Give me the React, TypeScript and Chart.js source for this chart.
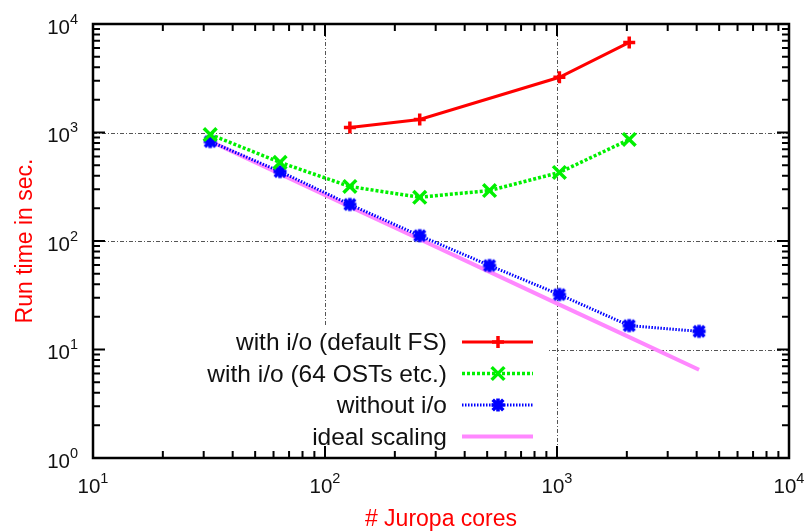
import React, { useEffect, useRef } from "react";
import { Chart, registerables } from "chart.js";

Chart.register(...registerables);

// ---- data ----
const coresDefaultFS = [128, 256, 1024, 2048];
const timeDefaultFS = [1110, 1320, 3230, 6760];
const cores64OST = [32, 64, 128, 256, 512, 1024, 2048];
const time64OST = [958, 530, 318, 253, 292, 428, 862];
const coresNoIO = [32, 64, 128, 256, 512, 1024, 2048, 4096];
const timeNoIO = [826, 437, 217, 112, 59.4, 32.1, 16.6, 14.7];
const coresIdeal = [32, 64, 128, 256, 512, 1024, 2048, 4096];
const timeIdeal = [830, 415, 207.5, 103.8, 51.9, 25.9, 13.0, 6.5];
const seriesLabels = [
  "with i/o (default FS)",
  "with i/o (64 OSTs etc.)",
  "without i/o",
  "ideal scaling",
];
const xTickExponents = [1, 2, 3, 4];
const yTickExponents = [0, 1, 2, 3, 4];
const xTitle = "# Juropa cores";
const yTitle = "Run time in sec.";

const FONT = '"Liberation Sans", Arial, Helvetica, sans-serif';

function pts(xs: number[], ys: number[]) {
  return xs.map((x, i) => ({ x, y: ys[i] }));
}

// gnuplot-style "*" point (plus overlaid with a square-cornered x)
function makeStar(color: string): HTMLCanvasElement {
  const c = document.createElement("canvas");
  c.width = 18;
  c.height = 18;
  const g = c.getContext("2d")!;
  g.strokeStyle = color;
  g.lineWidth = 3.6;
  const m = 9;
  const r = 6.5;
  const d = 5.3;
  g.beginPath();
  g.moveTo(m - r, m);
  g.lineTo(m + r, m);
  g.moveTo(m, m - r);
  g.lineTo(m, m + r);
  g.moveTo(m - d, m - d);
  g.lineTo(m + d, m + d);
  g.moveTo(m - d, m + d);
  g.lineTo(m + d, m - d);
  g.stroke();
  return c;
}

function drawMarker(ctx: CanvasRenderingContext2D, style: any, r: number, x: number, y: number) {
  if (style && typeof style === "object") {
    ctx.drawImage(style, x - style.width / 2, y - style.height / 2);
    return;
  }
  ctx.beginPath();
  if (style === "cross") {
    ctx.moveTo(x - r, y);
    ctx.lineTo(x + r, y);
    ctx.moveTo(x, y - r);
    ctx.lineTo(x, y + r);
  }
  if (style === "crossRot") {
    const d = r * Math.SQRT1_2;
    ctx.moveTo(x - d, y - d);
    ctx.lineTo(x + d, y + d);
    ctx.moveTo(x - d, y + d);
    ctx.lineTo(x + d, y - d);
  }
  ctx.stroke();
}

const gnuFrame = {
  id: "gnuFrame",
  beforeDatasetsDraw(chart: any) {
    const { ctx, chartArea: a, scales } = chart;
    const xs = scales.x;
    const ys = scales.y;
    ctx.save();
    // grid
    ctx.strokeStyle = "#555";
    ctx.lineWidth = 1;
    ctx.setLineDash([4, 2, 1, 2]);
    for (const e of xTickExponents) {
      const v = Math.pow(10, e);
      if (v <= xs.min || v >= xs.max) continue;
      const px = Math.round(xs.getPixelForValue(v)) + 0.5;
      ctx.beginPath();
      ctx.moveTo(px, a.top);
      ctx.lineTo(px, a.bottom);
      ctx.stroke();
    }
    for (const e of yTickExponents) {
      const v = Math.pow(10, e);
      if (v <= ys.min || v >= ys.max) continue;
      const py = Math.round(ys.getPixelForValue(v)) + 0.5;
      ctx.beginPath();
      ctx.moveTo(a.left, py);
      ctx.lineTo(a.right, py);
      ctx.stroke();
    }
    ctx.setLineDash([]);
    // opaque legend box
    ctx.fillStyle = "#fff";
    ctx.fillRect(a.left, 327, 548 - a.left, a.bottom - 327);
    ctx.restore();
  },
  afterDatasetsDraw(chart: any) {
    const { ctx, chartArea: a, scales } = chart;
    const xs = scales.x;
    const ys = scales.y;
    ctx.save();
    // ticks
    ctx.strokeStyle = "#000";
    ctx.lineWidth = 2;
    const major = 12;
    const minor = 7;
    const xMinE = Math.log10(xs.min);
    const xMaxE = Math.log10(xs.max);
    for (let e = xMinE; e <= xMaxE; e++) {
      for (let k = 1; k <= 9; k++) {
        const v = k * Math.pow(10, e);
        if (v < xs.min || v > xs.max) continue;
        const len = k === 1 ? major : minor;
        const px = xs.getPixelForValue(v);
        ctx.beginPath();
        ctx.moveTo(px, a.bottom);
        ctx.lineTo(px, a.bottom - len);
        ctx.moveTo(px, a.top);
        ctx.lineTo(px, a.top + len);
        ctx.stroke();
      }
    }
    const yMinE = Math.log10(ys.min);
    const yMaxE = Math.log10(ys.max);
    for (let e = yMinE; e <= yMaxE; e++) {
      for (let k = 1; k <= 9; k++) {
        const v = k * Math.pow(10, e);
        if (v < ys.min || v > ys.max) continue;
        const len = k === 1 ? major : minor;
        const py = ys.getPixelForValue(v);
        ctx.beginPath();
        ctx.moveTo(a.left, py);
        ctx.lineTo(a.left + len, py);
        ctx.moveTo(a.right, py);
        ctx.lineTo(a.right - len, py);
        ctx.stroke();
      }
    }
    // border
    ctx.lineWidth = 2.5;
    ctx.strokeRect(a.left, a.top, a.right - a.left, a.bottom - a.top);

    // tick labels
    const baseFont = `20.5px ${FONT}`;
    const expFont = `14.5px ${FONT}`;
    ctx.fillStyle = "#111";
    ctx.textBaseline = "alphabetic";
    ctx.textAlign = "left";
    for (const e of xTickExponents) {
      const px = xs.getPixelForValue(Math.pow(10, e));
      ctx.font = baseFont;
      const w1 = ctx.measureText("10").width;
      ctx.font = expFont;
      const w2 = ctx.measureText(String(e)).width;
      const x0 = px - (w1 + w2) / 2;
      ctx.font = baseFont;
      ctx.fillText("10", x0, 493);
      ctx.font = expFont;
      ctx.fillText(String(e), x0 + w1, 483);
    }
    for (const e of yTickExponents) {
      const py = ys.getPixelForValue(Math.pow(10, e));
      ctx.font = expFont;
      const w2 = ctx.measureText(String(e)).width;
      const right = 78;
      ctx.fillText(String(e), right - w2, py - 0.5);
      ctx.font = baseFont;
      const w1 = ctx.measureText("10").width;
      ctx.fillText("10", right - w2 - w1, py + 9.5);
    }

    // axis titles
    ctx.fillStyle = "#ff0000";
    ctx.font = `23px ${FONT}`;
    ctx.textAlign = "center";
    ctx.fillText(xTitle, (a.left + a.right) / 2, 526);
    ctx.save();
    ctx.translate(31.5, (a.top + a.bottom) / 2);
    ctx.rotate(-Math.PI / 2);
    ctx.fillText(yTitle, 0, 0);
    ctx.restore();

    // legend
    const rowY = [342, 373.5, 405, 436.5];
    ctx.font = `24.5px ${FONT}`;
    ctx.textAlign = "right";
    chart.data.datasets.forEach((ds: any, i: number) => {
      const y = rowY[i];
      ctx.fillStyle = "#111";
      ctx.fillText(seriesLabels[i], 447, y + 8);
      ctx.strokeStyle = ds.borderColor;
      ctx.lineWidth = ds.borderWidth;
      ctx.setLineDash(ds.borderDash || []);
      ctx.beginPath();
      ctx.moveTo(462, y);
      ctx.lineTo(533, y);
      ctx.stroke();
      ctx.setLineDash([]);
      if (ds.pointRadius > 0) {
        ctx.strokeStyle = ds.pointBorderColor;
        ctx.lineWidth = ds.pointBorderWidth;
        drawMarker(ctx, ds.pointStyle, ds.pointRadius, 498, y);
      }
    });
    ctx.restore();
  },
};

export default function App() {
  const ref = useRef<HTMLCanvasElement>(null);
  useEffect(() => {
    if (!ref.current) return;
    const blueStar = makeStar("#0000ff");
    const chart = new Chart(ref.current, {
      type: "line",
      data: {
        datasets: [
          {
            label: seriesLabels[0],
            data: pts(coresDefaultFS, timeDefaultFS),
            borderColor: "#ff0000",
            borderWidth: 3,
            pointStyle: "cross",
            pointRadius: 6,
            pointBorderWidth: 3.5,
            pointBorderColor: "#ff0000",
            pointBackgroundColor: "#ff0000",
            tension: 0,
          },
          {
            label: seriesLabels[1],
            data: pts(cores64OST, time64OST),
            borderColor: "#00f000",
            borderWidth: 3.5,
            borderDash: [3, 2],
            pointStyle: "crossRot",
            pointRadius: 9,
            pointBorderWidth: 3.5,
            pointBorderColor: "#00f000",
            pointBackgroundColor: "#00f000",
            tension: 0,
          },
          {
            label: seriesLabels[2],
            data: pts(coresNoIO, timeNoIO),
            borderColor: "#0000ff",
            borderWidth: 3,
            borderDash: [1.5, 1.5],
            pointStyle: blueStar,
            pointRadius: 7,
            pointBorderWidth: 0,
            pointBorderColor: "#0000ff",
            pointBackgroundColor: "#0000ff",
            tension: 0,
          },
          {
            label: seriesLabels[3],
            data: pts(coresIdeal, timeIdeal),
            borderColor: "#ff88ff",
            borderWidth: 4,
            pointRadius: 0,
            pointBorderWidth: 0,
            pointBorderColor: "#ff88ff",
            tension: 0,
          },
        ] as any,
      },
      options: {
        animation: false,
        responsive: false,
        maintainAspectRatio: false,
        devicePixelRatio: 1,
        layout: { padding: { left: 93, top: 24, right: 19, bottom: 74 } },
        plugins: { legend: { display: false }, tooltip: { enabled: false }, title: { display: false } },
        events: [],
        scales: {
          x: { type: "logarithmic", min: 10, max: 10000, display: false },
          y: { type: "logarithmic", min: 1, max: 10000, display: false },
        },
      } as any,
      plugins: [gnuFrame],
    });
    return () => chart.destroy();
  }, []);
  return (
    <div style={{ position: "fixed", left: 0, top: 0, width: 808, height: 532, background: "#fff" }}>
      <canvas ref={ref} width={808} height={532} style={{ display: "block", width: 808, height: 532 }} />
    </div>
  );
}
